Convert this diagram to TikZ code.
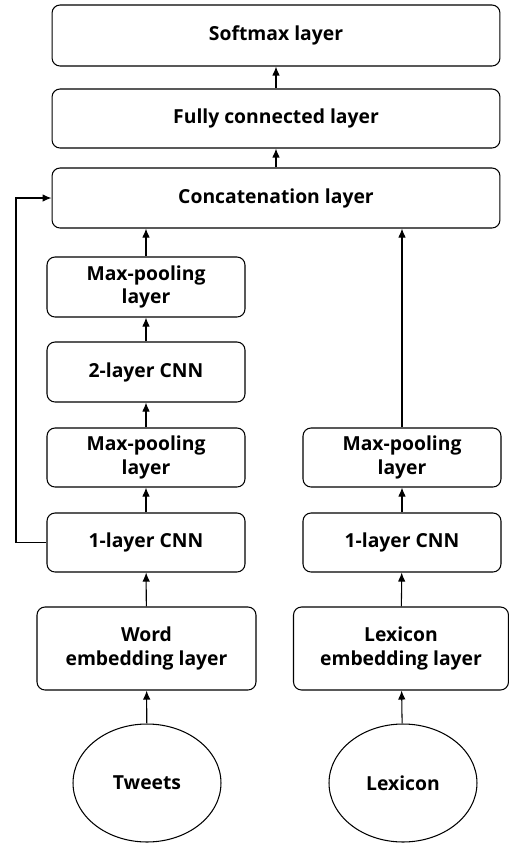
\documentclass[tikz,border=0pt]{standalone}
\usepackage{fontspec}
\setmainfont{Open Sans}
\usepackage{tikz}
\usetikzlibrary{shapes.geometric, positioning, arrows.meta}

\tikzset{
    layerbox/.style={draw, rounded corners=0.16cm, line width=0.6pt, align=center,
        font=\bfseries\fontsize{11}{13.5}\selectfont, inner sep=0pt},
    inputnode/.style={draw, ellipse, line width=0.6pt, font=\bfseries\fontsize{11}{13.5}\selectfont,
        minimum width=2.96cm, minimum height=2.36cm, inner sep=0pt},
    flow/.style={-{Latex[length=1.8mm,width=1.5mm]}, line width=0.6pt}
}

\begin{document}
\begin{tikzpicture}[x=0.02cm, y=-0.02cm]
    \useasboundingbox (0,0) rectangle (509,843);

    % Các lớp phía trên
    \node[layerbox, minimum width=8.96cm, minimum height=1.22cm] (softmax) at (276,35.5) {Softmax layer};
    \node[layerbox, minimum width=8.96cm, minimum height=1.18cm] (fc) at (276,118.5) {Fully connected layer};
    \node[layerbox, minimum width=8.96cm, minimum height=1.2cm] (concat) at (276,198) {Concatenation layer};

    % Nhánh Tweets
    \node[layerbox, minimum width=3.96cm, minimum height=1.2cm] (maxpoolB) at (146,287) {Max-pooling\\layer};
    \node[layerbox, minimum width=3.96cm, minimum height=1.2cm] (cnnB) at (146,372) {2-layer CNN};
    \node[layerbox, minimum width=3.96cm, minimum height=1.18cm] (maxpoolA) at (146,457.5) {Max-pooling\\layer};
    \node[layerbox, minimum width=3.96cm, minimum height=1.18cm] (cnnA) at (146,542.5) {1-layer CNN};
    \node[layerbox, minimum width=4.38cm, minimum height=1.66cm] (wordemb) at (146.5,648.5) {Word\\embedding layer};
    \node[inputnode] (tweets) at (147,783) {Tweets};

    % Nhánh Lexicon
    \node[layerbox, minimum width=3.96cm, minimum height=1.18cm] (lexpool) at (402,457.5) {Max-pooling\\layer};
    \node[layerbox, minimum width=3.96cm, minimum height=1.18cm] (lexcnn) at (402,542.5) {1-layer CNN};
    \node[layerbox, minimum width=4.3cm, minimum height=1.66cm] (lexemb) at (401,648.5) {Lexicon\\embedding layer};
    \node[inputnode] (lexicon) at (403,783) {Lexicon};

    % Mũi tên
    \draw[flow] (tweets) -- (wordemb);
    \draw[flow] (wordemb) -- (cnnA);
    \draw[flow] (cnnA) -- (maxpoolA);
    \draw[flow] (maxpoolA) -- (cnnB);
    \draw[flow] (cnnB) -- (maxpoolB);
    \draw[flow] (maxpoolB) -- (maxpoolB |- concat.south);
    \draw[flow] (lexicon) -- (lexemb);
    \draw[flow] (lexemb) -- (lexcnn);
    \draw[flow] (lexcnn) -- (lexpool);
    \draw[flow] (lexpool) -- (lexpool |- concat.south);
    \draw[flow] (concat) -- (fc);
    \draw[flow] (fc) -- (softmax);

    % Đường tắt từ 1-layer CNN
    \coordinate (bend) at (16,542.5);
    \draw[flow] (cnnA.west) -- (bend) |- (concat.west);
\end{tikzpicture}
\end{document}
